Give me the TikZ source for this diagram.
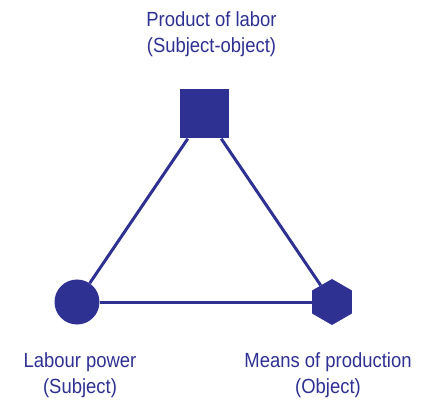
\documentclass[tikz,border=0pt]{standalone}
\usepackage{fontspec}
\setmainfont{Liberation Sans}[FakeStretch=0.9]
\usetikzlibrary{shapes.geometric}
\definecolor{labourBlue}{HTML}{2E3192}

\begin{document}
\begin{tikzpicture}[x=1pt,y=-1pt,%%
  lineStyle/.style={-,line width=3pt,labourBlue},%%
  nodeStyle/.style={fill=labourBlue,draw=none,inner sep=0pt},%%
  textStyle/.style={align=center,anchor=base,inner sep=0pt,text=labourBlue,%%
    font=\fontsize{20.5}{26}\selectfont}
]
%%
\useasboundingbox (0,0) rectangle (437,401);
%%
%% The three moments of labour.
\node[nodeStyle,rectangle,minimum size=49pt] (product) at (204.5,114) {};
\node[nodeStyle,circle,minimum size=45pt] (labour) at (77,302) {};
\node[nodeStyle,regular polygon,regular polygon sides=6,
  shape border rotate=30,minimum size=46pt] (means) at (332,302) {};
%%
%% Join them.
\draw[lineStyle] (product) -- (labour);
\draw[lineStyle] (product) -- (means);
\draw[lineStyle] (labour) -- (means);
%%
%% Labels (the base anchor sits on the last line).
\node[textStyle] (productText) at (211.5,53) {Product of labor\\(Subject-object)};
\node[textStyle] (labourText) at (80,393) {Labour power\\(Subject)};
\node[textStyle] (meansText) at (328,393) {Means of production\\(Object)};

\end{tikzpicture}
\end{document}
